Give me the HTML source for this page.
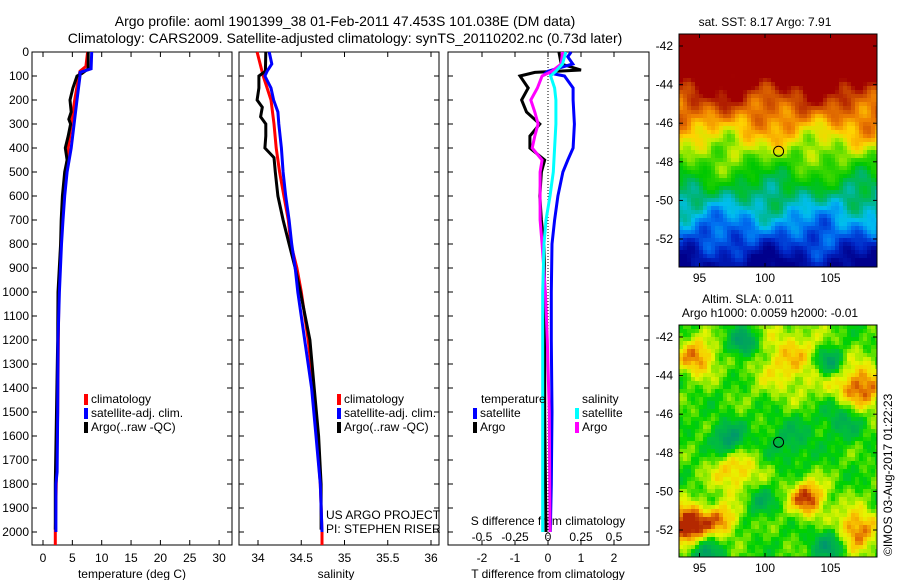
<!DOCTYPE html>
<html><head><meta charset="utf-8"><style>
html,body{margin:0;padding:0;background:#fff;}
svg{display:block;font-family:"Liberation Sans",sans-serif;}
text{font-size:12px;fill:#000;}
</style></head><body>
<svg id="fig" width="900" height="580" viewBox="0 0 900 580">
<text x="345" y="26" text-anchor="middle" style="font-size:14px">Argo profile: aoml 1901399_38 01-Feb-2011 47.453S 101.038E (DM data)</text>
<text x="345" y="43" text-anchor="middle" style="font-size:14px">Climatology: CARS2009. Satellite-adjusted climatology: synTS_20110202.nc (0.73d later)</text>
<g id="p1"></g>
<g id="p2"></g>
<g id="p3"></g>
<g id="m1"></g>
<g id="m2"></g>
</svg>
<script>
// ---- data ----
const depthTicks=[0,100,200,300,400,500,600,700,800,900,1000,1100,1200,1300,1400,1500,1600,1700,1800,1900,2000];
const tempTicks=[0,5,10,15,20,25,30];
const salTicks=[34,34.5,35,35.5,36];
const salTickLabels=["34","34.5","35","35.5","36"];
const tdiffTicks=[-2,-1,0,1,2];
const sdiffTicks=[-0.5,-0.25,0,0.25,0.5];
const sdiffTickLabels=["-0.5","-0.25","0","0.25","0.5"];
const lonTicks=[95,100,105];
const latTicks=[-42,-44,-46,-48,-50,-52];

const climTdepth=[0,60,80,100,200,300,400,500,700,1000,1500,2000,2054];
const climT=[7.6,7.3,6.3,6.1,5.4,4.8,4.3,3.9,3.2,2.7,2.5,2.1,2.1];
const satTdepth=[0,70,85,100,200,300,400,500,600,700,800,1000,1200,1500,1750,1800,2000];
const satT=[8.3,8.2,6.3,6.3,5.8,5.3,4.8,4.1,3.7,3.4,3.15,2.8,2.55,2.5,2.4,2.2,2.2];
const argoTdepth=[0,70,90,100,150,200,250,280,300,350,400,450,500,600,700,800,1000,1200,1500,1800,1990];
const argoT=[7.7,7.7,6.6,5.8,5.1,4.6,4.8,4.4,4.7,4.3,3.8,4.1,3.7,3.3,3.1,3.0,2.55,2.5,2.3,2.1,2.1];

const climSdepth=[0,100,200,300,400,500,600,700,800,900,1000,1200,1400,1600,1800,2000,2054];
const climS=[33.99,34.06,34.15,34.185,34.21,34.25,34.30,34.35,34.38,34.45,34.5,34.58,34.64,34.68,34.72,34.74,34.74];
const satSdepth=[0,50,80,100,150,200,250,300,400,500,600,700,800,900,1000,1200,1400,1600,1800,2000];
const satS=[34.13,34.16,34.105,34.08,34.15,34.18,34.23,34.24,34.27,34.29,34.32,34.36,34.39,34.43,34.46,34.54,34.62,34.67,34.72,34.74];
const argoSdepth=[0,80,100,150,200,230,270,300,350,400,440,500,600,700,800,900,1000,1200,1400,1600,1800,1990];
const argoS=[34.09,34.085,34.01,34.01,33.99,34.05,34.03,34.09,34.09,34.08,34.185,34.2,34.23,34.29,34.36,34.43,34.49,34.6,34.65,34.7,34.73,34.73];

const dSatTdepth=[0,20,50,80,85,100,150,200,300,400,450,500,600,700,800,1000,1200,1500,1800,2000];
const dSatT=[0.7,0.6,0.75,0.0,-0.05,0.5,0.76,0.76,0.8,0.76,0.6,0.45,0.3,0.2,0.12,0.1,0.1,0.12,0.1,0.07];
const dArgoTdepth=[0,50,75,85,100,150,200,250,300,350,400,450,500,600,700,800,1000,1500,2000];
const dArgoT=[0.33,0.4,1.0,-0.4,-0.85,-0.6,-0.8,-0.65,-0.25,-0.55,-0.55,-0.1,-0.2,-0.25,-0.2,-0.12,-0.1,-0.1,-0.06];
const dSatSdepth=[0,50,80,100,150,200,300,400,500,600,700,800,1000,1500,2000];
const dSatS=[0.135,0.11,0.06,0.02,0.05,0.06,0.06,0.05,0.04,0.015,-0.015,-0.03,-0.04,-0.04,-0.04];
const dArgoSdepth=[0,50,80,100,150,200,250,300,350,400,450,500,600,700,800,1000,1200,1500,2000];
const dArgoS=[0.11,0.1,0.03,-0.045,-0.08,-0.13,-0.1,-0.075,-0.1,-0.12,-0.045,-0.06,-0.06,-0.06,-0.045,-0.02,-0.005,0.01,0.015];

// ---- helpers ----
const NS="http://www.w3.org/2000/svg";
function mk(parent,tag,attrs,txt){const e=document.createElementNS(NS,tag);for(const k in attrs)e.setAttribute(k,attrs[k]);if(txt!==undefined)e.textContent=txt;parent.appendChild(e);return e;}
const yD=d=>52+d*0.24;
const PT=52,PB=545;

function frame(g,x0,x1,name){
  const r=mk(g,'rect',{x:x0,y:PT,width:x1-x0,height:PB-PT,fill:'none',stroke:'#000','stroke-width':1});
  
  
}
function xTicks(g,xs,labels,fx,y,name){
  xs.forEach((v,i)=>{const x=fx(v);
    mk(g,'line',{x1:x,x2:x,y1:PT,y2:PT+5,stroke:'#000'});
    mk(g,'line',{x1:x,x2:x,y1:PB,y2:PB-5,stroke:'#000'});
    const t=mk(g,'text',{x:x,y:y,'text-anchor':'middle'},labels[i]);
    
    
  });
}
function yTicks(g,x0,x1){
  depthTicks.forEach(d=>{const y=yD(d);
    mk(g,'line',{x1:x0,x2:x0+5,y1:y,y2:y,stroke:'#000'});
    mk(g,'line',{x1:x1,x2:x1-5,y1:y,y2:y,stroke:'#000'});
  });
}
function line(g,xs,ds,fx,color,w,name){
  const p=xs.map((v,i)=>fx(v).toFixed(1)+','+yD(ds[i]).toFixed(1)).join(' ');
  const e=mk(g,'polyline',{points:p,fill:'none',stroke:color,'stroke-width':w,'stroke-linejoin':'miter'});
  
  
}
function legend(g,x,y,color,label,name){
  mk(g,'rect',{x:x-3,y:y-9,width:4,height:11,fill:color});
  const t=mk(g,'text',{x:x+4,y:y},label);
  
  
}

// ---- panel 1: temperature ----
const p1=document.getElementById('p1');
const fT=v=>43+5.87*v;
frame(p1,32,232,'temperature');
yTicks(p1,32,232);
depthTicks.forEach(d=>{const t=mk(p1,'text',{x:29,y:yD(d)+4,'text-anchor':'end'},String(d));
  
  });
xTicks(p1,tempTicks,tempTicks.map(String),fT,562,'temperature');
let t=mk(p1,'text',{x:132,y:578,'text-anchor':'middle'},'temperature (deg C)');


line(p1,climT,climTdepth,fT,'#ff0000',3,'temperature-climatology-line');
line(p1,argoT,argoTdepth,fT,'#000000',3,'temperature-argo-line');
line(p1,satT,satTdepth,fT,'#0000ff',3,'temperature-satellite-line');
legend(p1,87,403,'#ff0000','climatology','temperature-legend-climatology');
legend(p1,87,417,'#0000ff','satellite-adj. clim.','temperature-legend-satellite');
legend(p1,87,431,'#000000','Argo(..raw -QC)','temperature-legend-argo');

// ---- panel 2: salinity ----
const p2=document.getElementById('p2');
const fS=v=>258+86.5*(v-34);
frame(p2,239,439,'salinity');
yTicks(p2,239,439);
xTicks(p2,salTicks,salTickLabels,fS,562,'salinity');
t=mk(p2,'text',{x:336,y:578,'text-anchor':'middle'},'salinity');


line(p2,climS,climSdepth,fS,'#ff0000',3,'salinity-climatology-line');
line(p2,argoS,argoSdepth,fS,'#000000',3,'salinity-argo-line');
line(p2,satS,satSdepth,fS,'#0000ff',3,'salinity-satellite-line');
legend(p2,340,403,'#ff0000','climatology','salinity-legend-climatology');
legend(p2,340,417,'#0000ff','satellite-adj. clim.','salinity-legend-satellite');
legend(p2,340,431,'#000000','Argo(..raw -QC)','salinity-legend-argo');
t=mk(p2,'text',{x:326,y:519},'US ARGO PROJECT');


t=mk(p2,'text',{x:326,y:533},'PI: STEPHEN RISER');



// ---- panel 3: differences ----
const p3=document.getElementById('p3');
const fdT=v=>548+33*v;
const fdS=v=>548+132*v;
frame(p3,448,649,'difference');
yTicks(p3,448,649);
xTicks(p3,tdiffTicks,tdiffTicks.map(String),fdT,562,'tdiff');
sdiffTicks.forEach((v,i)=>{const tt=mk(p3,'text',{x:fdS(v),y:541,'text-anchor':'middle'},sdiffTickLabels[i]);
  
  });
t=mk(p3,'text',{x:548,y:525,'text-anchor':'middle'},'S difference from climatology');


t=mk(p3,'text',{x:548,y:578,'text-anchor':'middle'},'T difference from climatology');


mk(p3,'line',{x1:548,x2:548,y1:PT,y2:PB,stroke:'#000','stroke-dasharray':'1,2'});
line(p3,dArgoT,dArgoTdepth,fdT,'#000000',3,'tdiff-argo-line');
line(p3,dSatT,dSatTdepth,fdT,'#0000ff',3,'tdiff-satellite-line');
line(p3,dArgoS,dArgoSdepth,fdS,'#ff00ff',3,'sdiff-argo-line');
line(p3,dSatS,dSatSdepth,fdS,'#00ffff',3,'sdiff-satellite-line');
t=mk(p3,'text',{x:481,y:403},'temperature');


t=mk(p3,'text',{x:582,y:403},'salinity');


legend(p3,476,417,'#0000ff','satellite','legend-tdiff-satellite');
legend(p3,476,431,'#000000','Argo','legend-tdiff-argo');
legend(p3,578,417,'#00ffff','satellite','legend-sdiff-satellite');
legend(p3,578,431,'#ff00ff','Argo','legend-sdiff-argo');

// ---- maps ----
function lerpCol(stops,v){
  v=Math.max(stops[0][0],Math.min(stops[stops.length-1][0],v));
  for(let i=1;i<stops.length;i++){if(v<=stops[i][0]){const a=stops[i-1],b=stops[i],f=(v-a[0])/(b[0]-a[0]||1);
    return 'rgb('+[0,1,2].map(k=>Math.round(a[1][k]+(b[1][k]-a[1][k])*f)).join(',')+')';}}
  return 'rgb('+stops[stops.length-1][1].join(',')+')';
}
function noise(x,y,s){return Math.sin(x*0.11+s)*Math.cos(y*0.13+s*2)+0.6*Math.sin(x*0.27+y*0.19+s*3)+0.4*Math.cos(x*0.41-y*0.33+s);}
function map(g,X0,X1,Y0,Y1,name,field,stops){
  const lonX=v=>699.5+13.1*(v-95);
  const latY=v=>Y0+12+(-42-v)*19.3;
  const cell=4;
  for(let y=Y0;y<Y1;y+=cell)for(let x=X0;x<X1;x+=cell){
    mk(g,'rect',{x:x,y:y,width:Math.min(cell,X1-x),height:Math.min(cell,Y1-y),fill:lerpCol(stops,field(x+2,y+2)),'shape-rendering':'crispEdges'});
  }
  const f=mk(g,'rect',{x:X0,y:Y0,width:X1-X0,height:Y1-Y0,fill:'none',stroke:'#000'});
  
  
  lonTicks.forEach(v=>{const x=lonX(v);
    mk(g,'line',{x1:x,x2:x,y1:Y0,y2:Y0+4,stroke:'#000'});
    mk(g,'line',{x1:x,x2:x,y1:Y1,y2:Y1-4,stroke:'#000'});
    const tt=mk(g,'text',{x:x,y:Y1+15,'text-anchor':'middle'},String(v));
    
    });
  latTicks.forEach(v=>{const y=latY(v);
    mk(g,'line',{x1:X0,x2:X0+4,y1:y,y2:y,stroke:'#000'});
    mk(g,'line',{x1:X1,x2:X1-4,y1:y,y2:y,stroke:'#000'});
    const tt=mk(g,'text',{x:X0-6,y:y+4,'text-anchor':'end'},String(v));
    
    });
  const c=mk(g,'circle',{cx:lonX(101.038),cy:latY(-47.453),r:5,fill:'none',stroke:'#000'});
  
  
}
const sstStops=[[0,[0,0,140]],[0.1,[0,40,200]],[0.18,[0,110,240]],[0.27,[0,190,240]],[0.36,[0,180,110]],[0.45,[0,200,0]],[0.53,[60,215,0]],[0.6,[200,240,0]],[0.67,[255,210,0]],[0.75,[240,130,0]],[0.83,[200,70,0]],[0.9,[160,0,0]],[1,[160,0,0]]];
map(document.getElementById('m1'),679,877,34,267,'sst-map',
  (x,y)=>(267-y)/200+0.06*noise(x*0.6,y*0.6,1),sstStops);
const slaBlobs=[[697,357,16,0.45],[790,360,30,0.3],[858,390,22,0.55],[735,470,20,0.35],[808,498,15,0.55],[688,525,16,0.75],[722,520,14,0.4],[856,530,18,0.5],[744,343,12,-0.45],[729,440,14,-0.45],[830,363,12,-0.45],[845,415,18,-0.35],[830,545,14,-0.4],[705,555,14,-0.35],[790,440,20,-0.2],[760,500,12,-0.25]];
const slaStops=[[0,[0,150,110]],[0.3,[0,190,60]],[0.42,[0,210,0]],[0.55,[150,235,0]],[0.65,[230,245,0]],[0.78,[250,200,0]],[0.9,[230,120,0]],[1,[180,40,0]]];
map(document.getElementById('m2'),679,877,325,557,'sla-map',
  (x,y)=>{let v=0.45+0.08*noise(x,y,2);slaBlobs.forEach(b=>{const d=((x-b[0])**2+(y-b[1])**2)/(b[2]*b[2]);v+=b[3]*Math.exp(-d*0.7);});return v;},slaStops);
let tx=mk(document.getElementById('m1'),'text',{x:765,y:26,'text-anchor':'middle'},'sat. SST: 8.17 Argo: 7.91');


tx=mk(document.getElementById('m2'),'text',{x:748,y:303,'text-anchor':'middle'},'Altim. SLA: 0.011');


tx=mk(document.getElementById('m2'),'text',{x:770,y:317,'text-anchor':'middle'},'Argo h1000: 0.0059 h2000: -0.01');


tx=mk(document.getElementById('m2'),'text',{x:0,y:0,transform:'translate(892,556) rotate(-90)'},'©IMOS 03-Aug-2017 01:22:23');


</script>
</body></html>
